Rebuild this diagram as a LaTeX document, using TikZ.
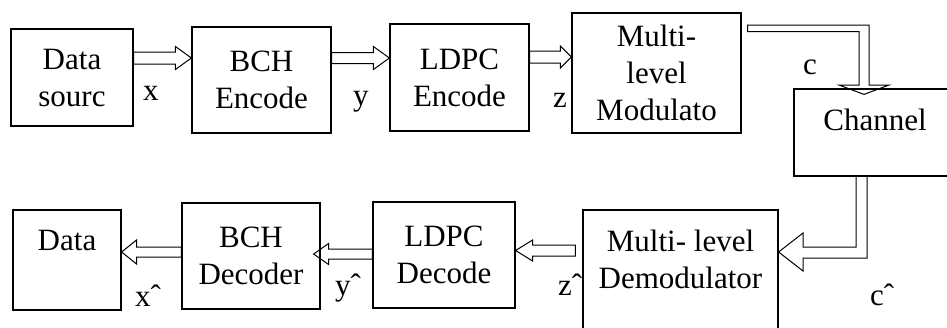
\documentclass[tikz,border=0pt]{standalone}
\usepackage{fontspec}
\setmainfont{Liberation Serif}
\usetikzlibrary{calc}
\tikzset{
  box/.style={draw, line width=1.2pt, align=center, inner sep=0pt},
  blk/.style={draw, line width=1pt, line join=miter},
  lbl/.style={inner sep=0pt},
  every node/.style={font=\fontsize{31}{37}\selectfont}
}
% #1 tail anchor, #2 tip anchor, #3 y (px, down), #4 shaft half, #5 head half, #6 signed head length
\newcommand\hblk[6]{%
  \draw[blk] let \p1=(#1), \p2=(#2) in
    (\x1,{(-#3+#4)*1pt}) -- ({\x2-(#6)*1pt},{(-#3+#4)*1pt}) -- ({\x2-(#6)*1pt},{(-#3+#5)*1pt})
    -- (\x2,{-#3*1pt}) -- ({\x2-(#6)*1pt},{(-#3-#5)*1pt}) -- ({\x2-(#6)*1pt},{(-#3-#4)*1pt})
    -- (\x1,{(-#3-#4)*1pt}) -- cycle;}
\begin{document}
\begin{tikzpicture}[x=1pt,y=-1pt]
\useasboundingbox (0,0) rectangle (947,327);
% top row
\node[box, minimum width=122, minimum height=97] (ds) at (72,77.5) {Data\\sourc};
\node[box, minimum width=139, minimum height=106] (bche) at (261.5,80) {BCH\\Encode};
\node[box, minimum width=139, minimum height=107] (ldpce) at (459.5,77.5) {LDPC\\Encode};
\node[box, minimum width=169, minimum height=120] (mod) at (656.5,73) {Multi-\\level\\Modulato};
\node[box, minimum width=162, minimum height=87] (ch) at (875,132.5) {};
\node[lbl, anchor=base] (cht) at (875,130) {Channel};
% bottom row
\node[box, minimum width=108, minimum height=100] (dd) at (67,260) {};
\node[lbl, anchor=base] (ddt) at (67,250) {Data};
\node[box, minimum width=138, minimum height=106] (bchd) at (251,256) {BCH\\Decoder};
\node[box, minimum width=142, minimum height=106] (ldpcd) at (444,255) {LDPC\\Decode};
\node[box, minimum width=195, minimum height=130] (demod) at (680.5,275) {};
\node[lbl, align=center] (demodt) at (680.5,259) {Multi- level\\Demodulator};
% signal labels
\node[lbl, anchor=base west] (lx) at (143,100) {x};
\node[lbl, anchor=base west] (ly) at (353,105) {y};
\node[lbl, anchor=base west] (lz) at (553,107) {z};
\node[lbl, anchor=base west] (lc) at (803,74) {c};
\node[lbl, anchor=base west] (lxh) at (135,306) {x\symbol{"02C6}};
\node[lbl, anchor=base west] (lyh) at (335,295) {y\symbol{"02C6}};
\node[lbl, anchor=base west] (lzh) at (558,295) {z\symbol{"02C6}};
\node[lbl, anchor=base west] (lch) at (870,305) {c\symbol{"02C6}};
% block arrows, top row
\hblk{ds.east}{bche.west}{58}{6}{11.5}{16}
\hblk{bche.east}{ldpce.west}{58}{5.5}{11.5}{16}
\hblk{ldpce.east}{mod.west}{57}{6}{11}{11}
% modulator to channel
\draw[blk] let \p1=(mod.east), \p2=(ch.north) in
  ({\x1+6pt},-25pt) -- (869pt,-25pt) -- (869pt,-85pt) -- (889pt,-85pt) -- (864pt,{\y2-6pt})
  -- (839pt,-85pt) -- (859pt,-85pt) -- (859pt,-31.5pt) -- ({\x1+6pt},-31.5pt) -- cycle;
% channel to demodulator
\draw[blk] let \p1=(ch.south), \p2=(demod.east) in
  (856pt,\y1) -- (856pt,-247pt) -- (803pt,-247pt) -- (803pt,-233pt) -- (\x2,-252pt)
  -- (803pt,-271pt) -- (803pt,-258pt) -- (867pt,-258pt) -- (867pt,\y1);
% block arrows, bottom row
\hblk{$(demod.west)+(-7,0)$}{ldpcd.east}{250.5}{5.5}{10.5}{-17}
\hblk{ldpcd.west}{$(bchd.east)+(-7,0)$}{254}{5}{10.5}{-15}
\hblk{bchd.west}{dd.east}{252}{5}{12}{-15}
\end{tikzpicture}
\end{document}
